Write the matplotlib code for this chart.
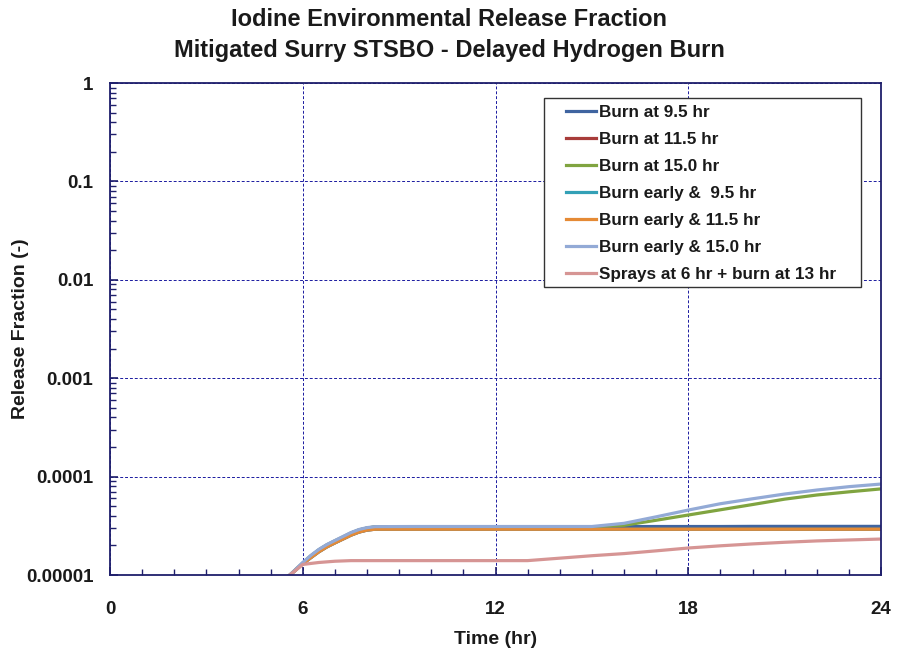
import matplotlib
matplotlib.use("Agg")
import matplotlib.pyplot as plt
from matplotlib.patches import Rectangle
from matplotlib.ticker import MultipleLocator, LogLocator, NullFormatter, FixedLocator

# time points (hr)
time_hr = [5.6, 5.8, 6.0, 6.25, 6.5, 6.75, 7.0, 7.25, 7.5, 7.75, 8.0, 8.25, 9.5, 11.5, 13.0,
           15.0, 16.0, 17.0, 18.0, 19.0, 20.0, 21.0, 22.0, 23.0, 24.0]

burn_95 = [1.0e-5, 1.15e-5, 1.32e-5, 1.56e-5, 1.8e-5, 2.02e-5, 2.22e-5, 2.43e-5, 2.67e-5, 2.87e-5,
           3.0e-5, 3.08e-5, 3.1e-5, 3.1e-5, 3.1e-5,
           3.1e-5, 3.1e-5, 3.11e-5, 3.11e-5, 3.11e-5, 3.12e-5, 3.12e-5, 3.12e-5, 3.12e-5, 3.12e-5]
burn_115 = [1.0e-5, 1.14e-5, 1.3e-5, 1.5e-5, 1.72e-5, 1.93e-5, 2.12e-5, 2.32e-5, 2.54e-5, 2.73e-5,
            2.86e-5, 2.92e-5, 2.92e-5, 2.92e-5, 2.92e-5,
            2.92e-5, 2.92e-5, 2.92e-5, 2.92e-5, 2.92e-5, 2.92e-5, 2.92e-5, 2.92e-5, 2.92e-5, 2.92e-5]
burn_150 = [1.0e-5, 1.15e-5, 1.32e-5, 1.56e-5, 1.8e-5, 2.02e-5, 2.22e-5, 2.43e-5, 2.67e-5, 2.87e-5,
            3.0e-5, 3.08e-5, 3.08e-5, 3.08e-5, 3.08e-5,
            3.08e-5, 3.2e-5, 3.6e-5, 4.07e-5, 4.6e-5, 5.2e-5, 5.9e-5, 6.5e-5, 7.0e-5, 7.5e-5]
early_95 = [1.0e-5, 1.14e-5, 1.3e-5, 1.5e-5, 1.72e-5, 1.93e-5, 2.12e-5, 2.32e-5, 2.54e-5, 2.73e-5,
            2.86e-5, 2.92e-5, 2.92e-5, 2.92e-5, 2.92e-5,
            2.92e-5, 2.92e-5, 2.92e-5, 2.92e-5, 2.92e-5, 2.92e-5, 2.92e-5, 2.92e-5, 2.92e-5, 2.92e-5]
early_115 = [1.0e-5, 1.14e-5, 1.3e-5, 1.5e-5, 1.72e-5, 1.93e-5, 2.12e-5, 2.32e-5, 2.54e-5, 2.73e-5,
             2.86e-5, 2.92e-5, 2.92e-5, 2.92e-5, 2.92e-5,
             2.92e-5, 2.92e-5, 2.92e-5, 2.92e-5, 2.92e-5, 2.92e-5, 2.92e-5, 2.92e-5, 2.92e-5, 2.92e-5]
early_150 = [1.0e-5, 1.16e-5, 1.34e-5, 1.58e-5, 1.82e-5, 2.04e-5, 2.24e-5, 2.46e-5, 2.7e-5, 2.9e-5,
             3.03e-5, 3.1e-5, 3.11e-5, 3.11e-5, 3.11e-5,
             3.11e-5, 3.35e-5, 3.9e-5, 4.57e-5, 5.3e-5, 5.95e-5, 6.65e-5, 7.3e-5, 7.9e-5, 8.4e-5]
sprays = [1.0e-5, 1.13e-5, 1.28e-5, 1.31e-5, 1.34e-5, 1.36e-5, 1.38e-5, 1.39e-5, 1.4e-5, 1.4e-5,
          1.4e-5, 1.4e-5, 1.4e-5, 1.4e-5, 1.4e-5,
          1.57e-5, 1.65e-5, 1.76e-5, 1.88e-5, 1.98e-5, 2.07e-5, 2.15e-5, 2.22e-5, 2.27e-5, 2.32e-5]

labels = ["Burn at 9.5 hr", "Burn at 11.5 hr", "Burn at 15.0 hr", "Burn early &  9.5 hr",
          "Burn early & 11.5 hr", "Burn early & 15.0 hr", "Sprays at 6 hr + burn at 13 hr"]
colors = ["#3F64A0", "#A83C3A", "#80A440", "#33A0B6", "#E58A35", "#93AAD6", "#D69594"]
series = [burn_95, burn_115, burn_150, early_95, early_115, early_150, sprays]

y_ticks = [1e-5, 1e-4, 1e-3, 1e-2, 1e-1, 1]
y_ticklabels = ["0.00001", "0.0001", "0.001", "0.01", "0.1", "1"]
x_ticks = [0, 6, 12, 18, 24]

plt.rcParams["font.family"] = ["Liberation Sans", "DejaVu Sans"]
navy = "#1F1F6B"
W, H = 898, 654

fig = plt.figure(figsize=(W / 100, H / 100), dpi=100)
ax = fig.add_axes([110 / W, 1 - 575 / H, 771 / W, 492 / H])

for vals, lab, col in zip(series, labels, colors):
    ax.plot(time_hr, vals, color=col, lw=2.3, label=lab)

ax.set_yscale("log")
ax.set_xlim(0, 24)
ax.set_ylim(1e-5, 1)
ax.xaxis.set_major_locator(FixedLocator(x_ticks))
ax.xaxis.set_minor_locator(MultipleLocator(1))
ax.yaxis.set_major_locator(FixedLocator(y_ticks))
ax.set_yticklabels(y_ticklabels)
ax.yaxis.set_minor_locator(LogLocator(base=10, subs=range(2, 10)))
ax.yaxis.set_minor_formatter(NullFormatter())

ax.tick_params(which="both", direction="in", colors=navy, labelcolor="#1a1a1a",
               labelsize=13.5)
ax.tick_params(which="major", length=6, width=1.2)
ax.tick_params(which="minor", length=4, width=1)
for lbl in ax.get_xticklabels() + ax.get_yticklabels():
    lbl.set_fontweight("bold")
ax.tick_params(axis="x", pad=19)
ax.tick_params(axis="y", pad=12)

for sp in ax.spines.values():
    sp.set_color(navy)
    sp.set_linewidth(1.3)

ax.grid(True, which="major", color="#1A1AA0", linestyle=(0, (3, 2)), linewidth=0.7)

ax.set_xlabel("Time (hr)", fontsize=14, fontweight="bold", color="#1a1a1a")
ax.xaxis.set_label_coords(0.5, -(631 - 575) / 492)
ax.set_ylabel("Release Fraction (-)", fontsize=14, fontweight="bold", color="#1a1a1a")
ax.yaxis.set_label_coords(-(110 - 29) / 771, 0.5)

fig.text(0.5, 1 - 19 / H, "Iodine Environmental Release Fraction", ha="center", va="center",
         fontsize=17, fontweight="bold", color="#1a1a1a")
fig.text(0.5, 1 - 50 / H, "Mitigated Surry STSBO - Delayed Hydrogen Burn", ha="center",
         va="center", fontsize=17, fontweight="bold", color="#1a1a1a")

# legend frame drawn separately so the box matches the original size
ax.add_patch(Rectangle(((544 - 110) / 771, (575 - 287) / 492), 317 / 771, 189 / 492,
                       transform=ax.transAxes, facecolor="white", edgecolor="#333333",
                       lw=1.0, zorder=4))
leg = ax.legend(loc="upper left", bbox_to_anchor=((566 - 110) / 771, (575 - 105) / 492),
                frameon=False, prop={"weight": "bold", "size": 12.3},
                labelspacing=0.7, handlelength=1.75, handletextpad=0.18,
                borderpad=0, borderaxespad=0)
leg.set_zorder(5)
for t in leg.get_texts():
    t.set_color("#1a1a1a")

fig.savefig("out.png", dpi=100)
